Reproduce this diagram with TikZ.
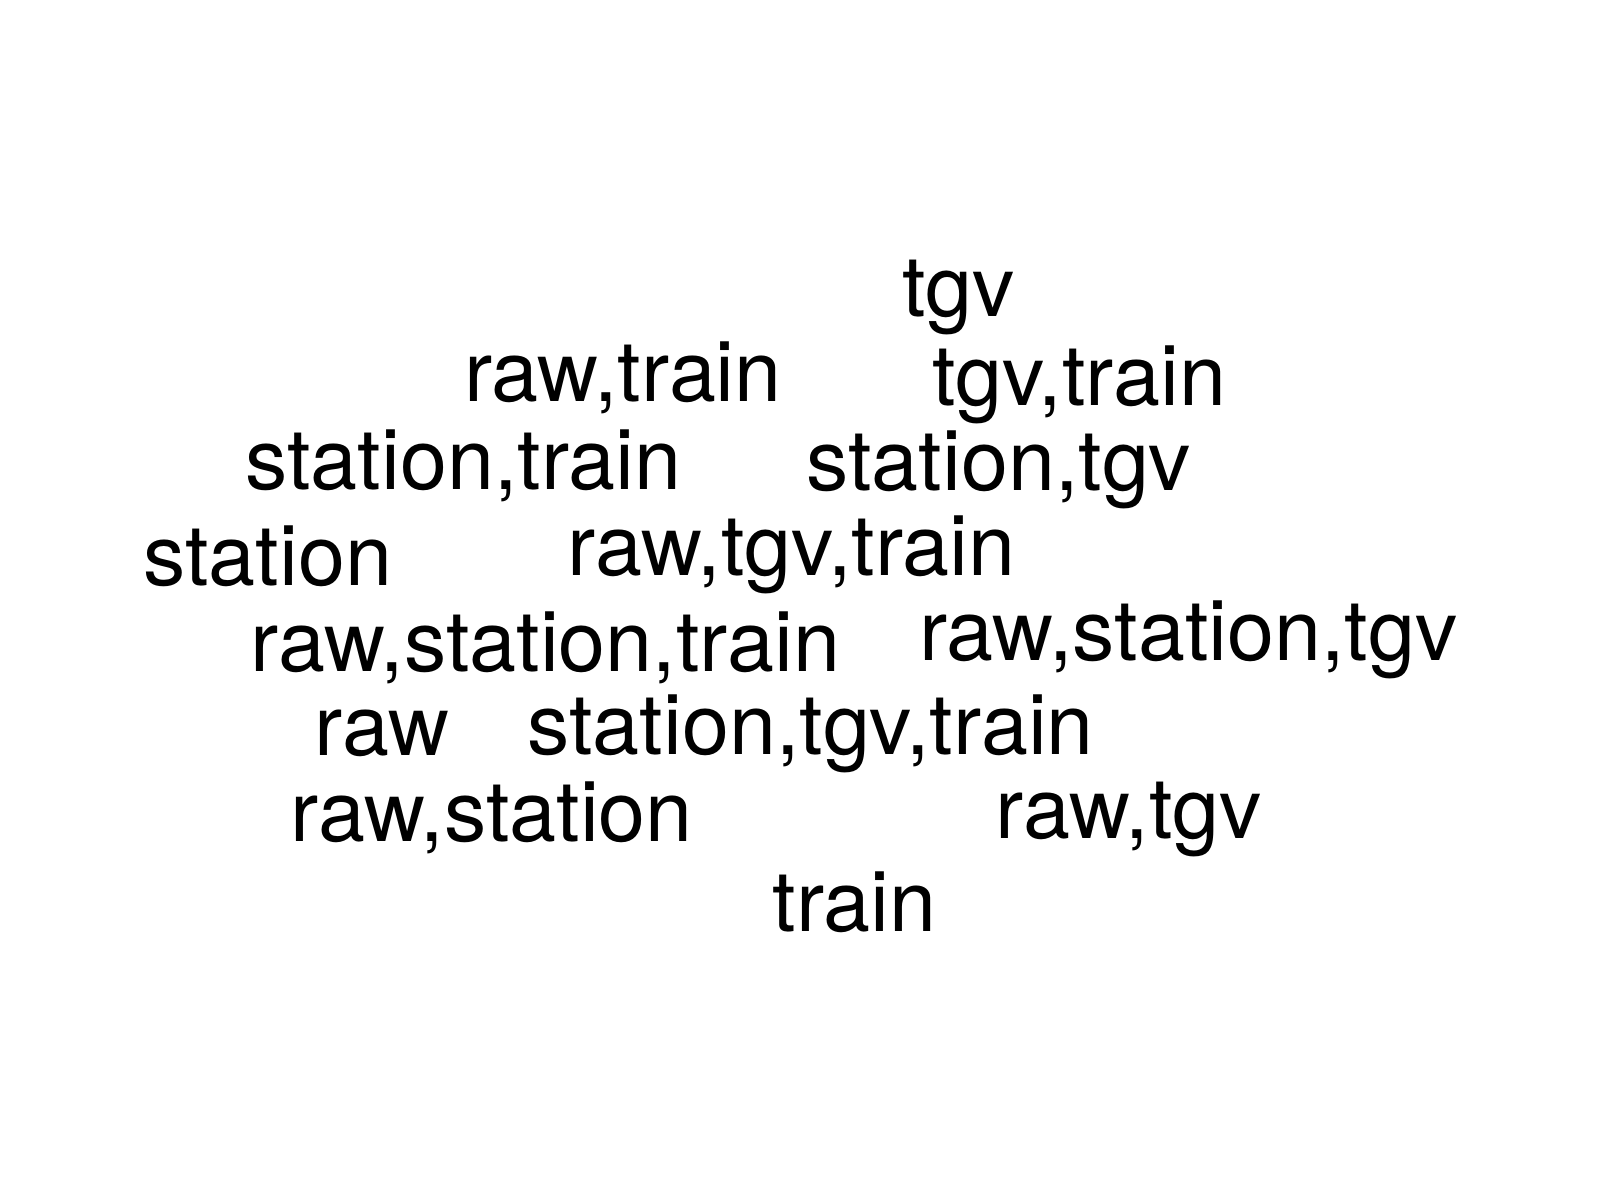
\documentclass[tikz,border=0pt]{standalone}
\usepackage{fontspec}
\setmainfont{TeX Gyre Heros}
\begin{document}
\begin{tikzpicture}[x=1pt,y=-1pt,
  word/.style={anchor=base west,inner sep=0pt,outer sep=0pt,font=\fontsize{84.5}{101}\selectfont,text=black}]
\useasboundingbox[fill=white] (0,0) rectangle (1600,1200);
\node[word] (w1) at (902,316) {tgv};
\node[word] (w2) at (464,401.5) {raw,train};
\node[word] (w3) at (932,405) {tgv,train};
\node[word] (w4) at (245.5,489) {station,train};
\node[word] (w5) at (806.5,490.5) {station,tgv};
\node[word] (w6) at (143.5,585) {station};
\node[word] (w7) at (567.5,575) {raw,tgv,train};
\node[word] (w8) at (250.5,671.5) {raw,station,train};
\node[word] (w9) at (919,660) {raw,station,tgv};
\node[word] (w10) at (314.5,755) {raw};
\node[word] (w11) at (527.5,754) {station,tgv,train};
\node[word] (w12) at (290.5,841.5) {raw,station};
\node[word] (w13) at (995.5,838) {raw,tgv};
\node[word] (w14) at (772.5,931.5) {train};
\end{tikzpicture}
\end{document}
